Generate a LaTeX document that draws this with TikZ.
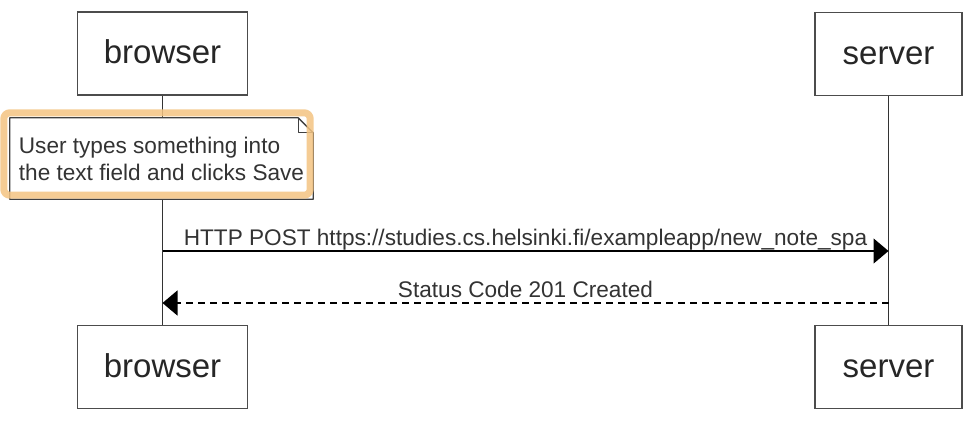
\documentclass[tikz,border=0pt]{standalone}
\usepackage{fontspec}
\setmainfont{Liberation Sans}
\usetikzlibrary{arrows.meta}

\definecolor{hilite}{RGB}{244,196,130}

\begin{document}
\begin{tikzpicture}[x=1pt, y=-1pt,
		actor/.style={draw=black!70, line width=1.5pt, fill=white, minimum width=170pt, minimum height=83pt, inner sep=0pt, text height=24pt, text depth=4pt, font=\fontsize{33}{40}\selectfont, text=black!85},
		lifeline/.style={draw=black!80, line width=1.4pt},
		msg/.style={line width=1.4pt, -{Triangle[length=15pt,width=25pt]}},
		msglabel/.style={above, inner sep=0pt, text depth=5pt, font=\fontsize{22.6}{27}\selectfont, text=black!80},
		notebox/.style={fill=white, minimum width=303pt, minimum height=81pt, inner sep=0pt, align=left, font=\fontsize{22.6}{27}\selectfont, text=black!80},
		noteline/.style={draw=black!75, line width=1.3pt, line join=round}]
		
		\useasboundingbox[fill=white] (0,0) rectangle (970,424);
		
		% 1. Participants (top and bottom)
		\node[actor] (browserTop) at (162.5,53.5) {browser};
		\node[actor, minimum width=147pt] (serverTop) at (888.5,54) {server};
		\node[actor] (browserBot) at (162.5,367) {browser};
		\node[actor, minimum width=147pt] (serverBot) at (888.5,367) {server};
		
		% 2. Lifelines
		\draw[lifeline] (browserTop) -- (browserBot);
		\draw[lifeline] (serverTop) -- (serverBot);
		
		% 3. Note with folded corner
		\node[notebox] (note) at (161.5,158.5) {User types something into\\the text field and clicks Save};
		\draw[noteline] (note.south west) -- (note.north west) -- ([xshift=-15pt]note.north east)
			-- ([yshift=-15pt]note.north east) -- (note.south east) -- cycle;
		\draw[noteline] ([xshift=-15pt]note.north east) |- ([yshift=-15pt]note.north east);
		
		% 4. Messages
		\coordinate (postFrom) at (162.5,251);
		\coordinate (postTo) at (888.5,251);
		\coordinate (replyFrom) at (888.5,303);
		\coordinate (replyTo) at (162.5,303);
		\draw[msg] (postFrom) -- node[msglabel] {HTTP POST https://studies.cs.helsinki.fi/exampleapp/new\_note\_spa} (postTo);
		\draw[msg, dash pattern=on 7pt off 5pt] (replyFrom) -- node[msglabel] {Status Code 201 Created} (replyTo);
		
		% 5. Orange highlight round the note
		\draw[hilite, line width=7pt, opacity=0.85, rounded corners=6pt]
			([shift={(-6pt,5pt)}]note.north west) rectangle ([shift={(-3pt,4pt)}]note.south east);
		
	\end{tikzpicture}
\end{document}
